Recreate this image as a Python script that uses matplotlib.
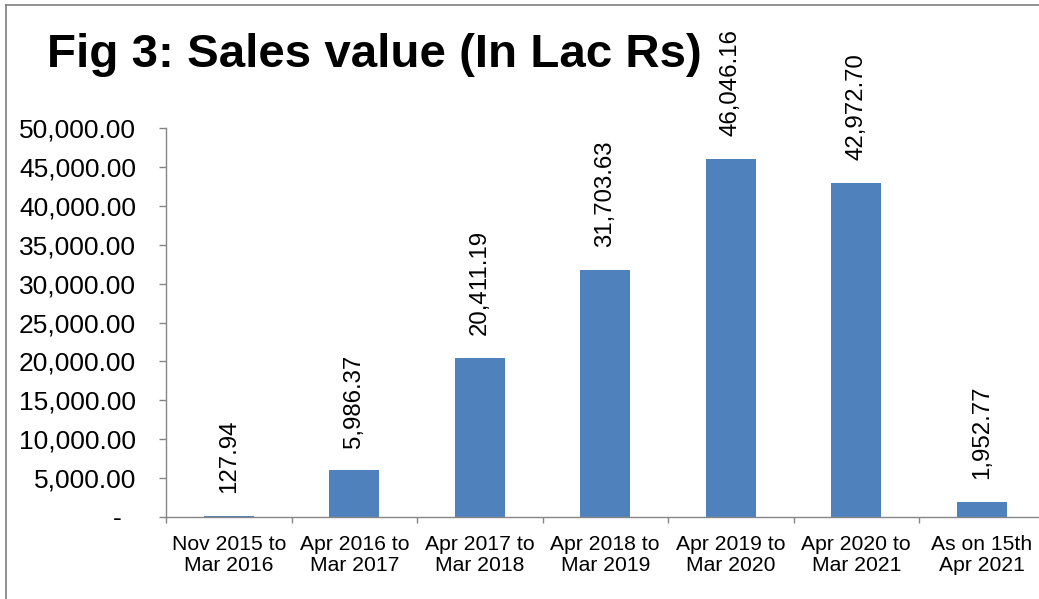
import numpy as np
import matplotlib
matplotlib.use("Agg")
import matplotlib.pyplot as plt
from matplotlib.lines import Line2D

plt.rcParams['font.family'] = ['Liberation Sans', 'DejaVu Sans']

periods = ["Nov 2015 to\nMar 2016", "Apr 2016 to\nMar 2017", "Apr 2017 to\nMar 2018",
           "Apr 2018 to\nMar 2019", "Apr 2019 to\nMar 2020", "Apr 2020 to\nMar 2021",
           "As on 15th\nApr 2021"]
sales = [127.94, 5986.37, 20411.19, 31703.63, 46046.16, 42972.70, 1952.77]
yticks = [0, 5000, 10000, 15000, 20000, 25000, 30000, 35000, 40000, 45000, 50000]

W, H = 1039, 599
fig = plt.figure(figsize=(W / 100, H / 100), dpi=100)
# axes spills past the right edge, like the cropped original
ax = fig.add_axes([166 / W, 1 - 517 / H, 878.5 / W, 389 / H])

x = np.arange(len(sales))
ax.bar(x, sales, width=0.4, color="#4F81BD", zorder=2)

for xi, v in zip(x, sales):
    ax.annotate(f"{v:,.2f}", (xi, v), xytext=(0, 16.5), textcoords="offset points",
                rotation=90, ha="center", va="bottom", fontsize=17.3, color="black")

ax.set_xlim(-0.5, len(sales) - 0.5)
ax.set_ylim(0, 50000)
ax.set_yticks(yticks)
ax.set_yticklabels(["-  " if t == 0 else f"{t:,.2f}" for t in yticks], fontsize=19)
ax.set_xticks(x)
ax.set_xticklabels(periods, fontsize=15.2, linespacing=1.12)
ax.set_xticks(np.arange(-0.5, len(sales), 1.0), minor=True)
ax.tick_params(axis="x", which="major", length=0, pad=13)
ax.tick_params(axis="x", which="minor", length=4.3, color="#868686", width=1)
ax.tick_params(axis="y", length=5, color="#868686", width=1, pad=16.5)

for s in ["top", "right"]:
    ax.spines[s].set_visible(False)
for s in ["left", "bottom"]:
    ax.spines[s].set_color("#868686")
    ax.spines[s].set_linewidth(1)

fig.text(47 / W, 1 - 67 / H, "Fig 3: Sales value (In Lac Rs)", fontsize=34.2,
         fontweight="bold", ha="left", va="baseline")

# outer border (top and left only visible)
fig.add_artist(Line2D([6 / W, 1.0], [1 - 5 / H, 1 - 5 / H], color="#7f7f7f", lw=1.2,
                      transform=fig.transFigure))
fig.add_artist(Line2D([6 / W, 6 / W], [0, 1 - 5 / H], color="#7f7f7f", lw=1.2,
                      transform=fig.transFigure))

fig.savefig("out.png", dpi=100)
